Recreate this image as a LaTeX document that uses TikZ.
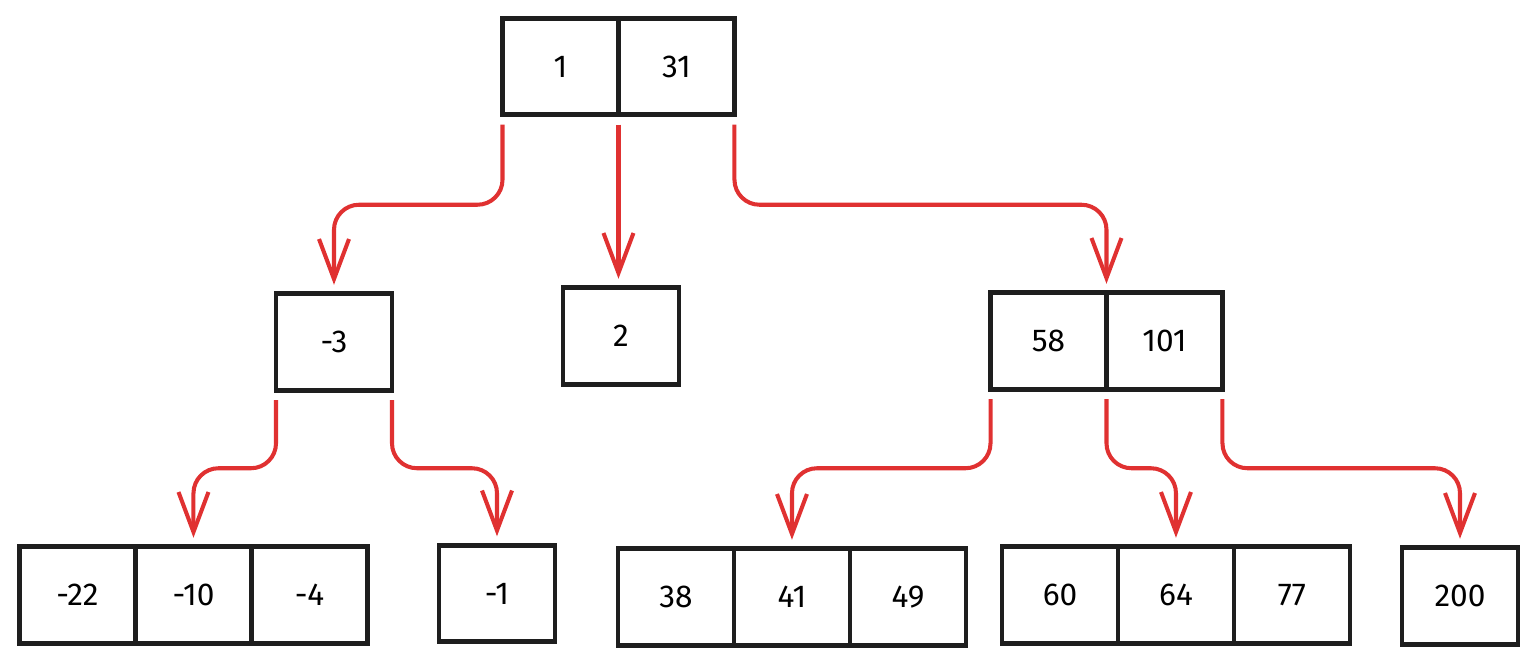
\documentclass[tikz,border=0pt]{standalone}
\usepackage{fontspec}
\setmainfont{Fira Sans}
\usetikzlibrary{arrows.meta,positioning}
\definecolor{ln}{RGB}{30,30,30}
\definecolor{ar}{RGB}{224,49,49}
\tikzset{cell/.style={draw=ln,line width=2.6pt,minimum width=2.32cm,minimum height=1.93cm,outer sep=0pt,inner sep=0pt,font=\fontsize{18}{21}\selectfont},
 link/.style={draw=ar,line width=2.3pt,rounded corners=.5cm,-{Straight Barb[length=8mm,width=6mm]},shorten <=2mm,shorten >=1.8mm}}
\begin{document}
\begin{tikzpicture}[x=0.02cm,y=-0.02cm]
\useasboundingbox (0,0) rectangle (1539,666);
\node[cell] (r1) at (560.5,66.5) {1};\node[cell,right=0pt of r1] (r31) {31};
\node[cell] (n3) at (334,342) {-3};
\node[cell] (n2) at (621,336) {2};
\node[cell] (m58) at (1048.5,341) {58};\node[cell,right=0pt of m58] (m101) {101};
\node[cell] (l22) at (77.5,595) {-22};\node[cell,right=0pt of l22] (l10) {-10};\node[cell,right=0pt of l10] (l4) {-4};
\node[cell] (l1) at (497,593.5) {-1};
\node[cell] (l38) at (676,597) {38};\node[cell,right=0pt of l38] (l41) {41};\node[cell,right=0pt of l41] (l49) {49};
\node[cell] (l60) at (1060,595) {60};\node[cell,right=0pt of l60] (l64) {64};\node[cell,right=0pt of l64] (l77) {77};
\node[cell] (l200) at (1460,596) {200};
\draw[link] (r1.south west) --++(0,90) -| (n3.north);
\draw[link] (r1.south east) -- (r1.south east |- n2.north);
\draw[link] (r31.south east) --++(0,90) -| (m58.north east);
\draw[link] (n3.south west) --++(0,78) -| (l10.north);\draw[link] (n3.south east) --++(0,78) -| (l1.north);
\draw[link] (m58.south west) --++(0,79) -| (l41.north);\draw[link] (m58.south east) --++(0,79) -| (l64.north);
\draw[link] (m101.south east) --++(0,79) -| (l200.north);
\end{tikzpicture}
\end{document}
